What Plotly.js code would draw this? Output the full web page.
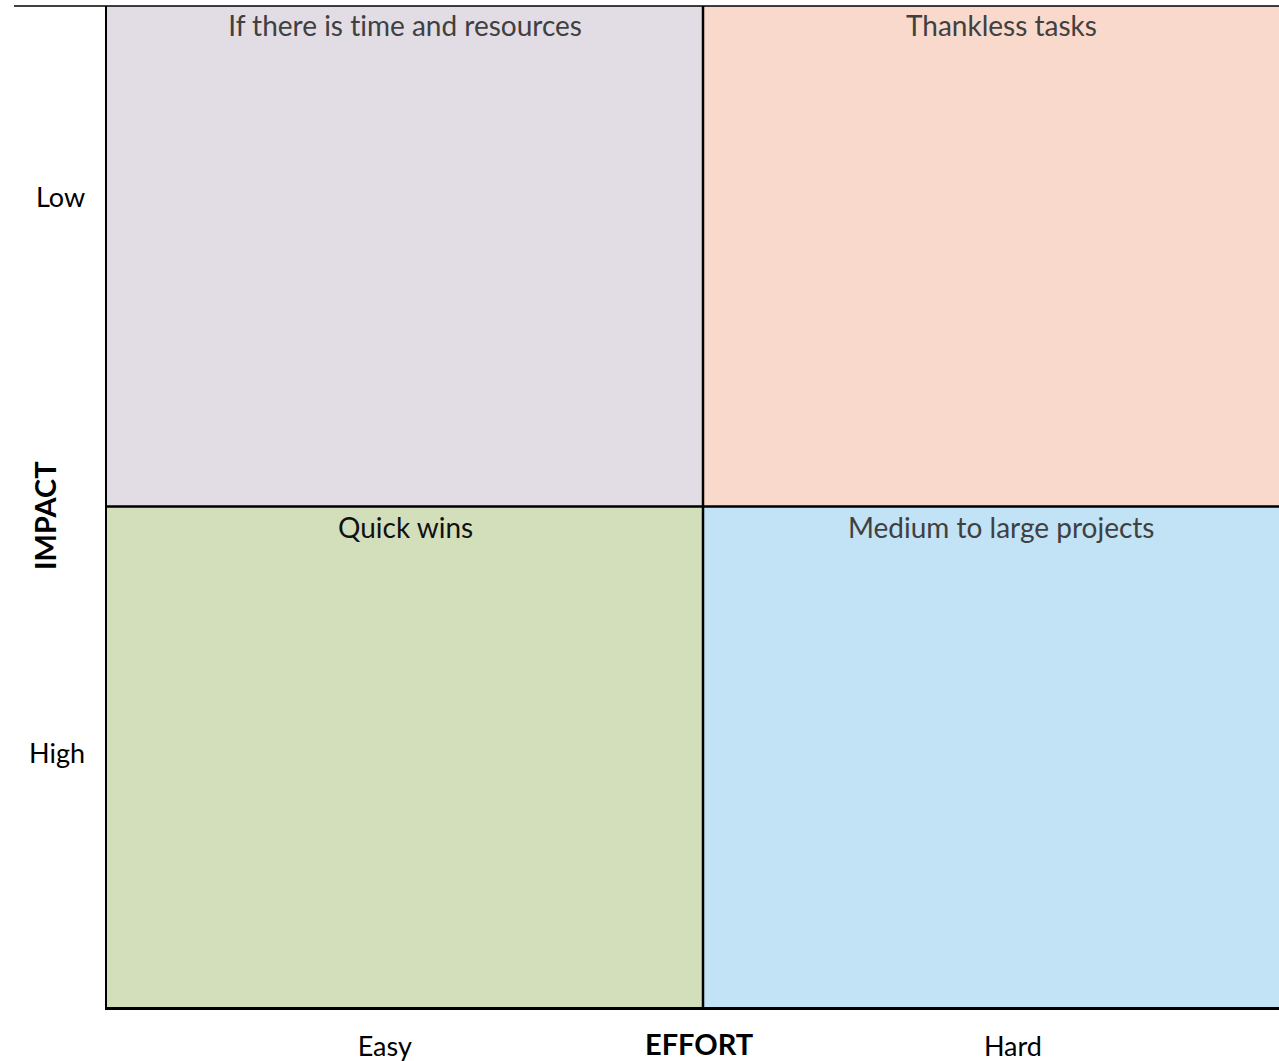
<!DOCTYPE html>
<html>
<head>
<meta charset="utf-8">
<script src="https://cdn.plot.ly/plotly-3.0.1.min.js"></script>
<style>
html,body{margin:0;padding:0;background:#fff;}
#chart{width:1279px;height:1061px;}
#chart text{font-variant-ligatures:none;font-feature-settings:"liga" 0, "clig" 0;}
</style>
</head>
<body>
<div id="chart"></div>
<script>
// ---- data ----
const effortLevels = ['Easy', 'Hard'];          // x categories, left to right
const impactLevels = ['High', 'Low'];           // y categories, bottom to top
// quadrant names, rows bottom (High) to top (Low), columns Easy -> Hard
const quadrantNames = [
  ['Quick wins', 'Medium to large projects'],
  ['If there is time and resources', 'Thankless tasks']
];
const quadrantIndex = [[2, 3], [0, 1]];
const quadrantColors = ['#E2DCE5', '#F8D9CB', '#D3DFBB', '#C2E2F5'];
const quadrantTextColors = [['#111111', '#404040'], ['#404040', '#404040']];
const xTitle = 'EFFORT';
const yTitle = 'IMPACT';

// ---- build ----
const cellX = effortLevels.map((_, i) => i + 0.5);
const cellY = impactLevels.map((_, j) => j + 0.5);
const n = quadrantColors.length;
const colorscale = quadrantColors.map((c, k) => [k / (n - 1), c]);

const heat = {
  type: 'heatmap',
  x: cellX, y: cellY, z: quadrantIndex,
  zmin: 0, zmax: n - 1,
  colorscale: colorscale,
  showscale: false,
  hoverinfo: 'skip'
};

const FONT = 'Lato, "Open Sans", sans-serif';
const annotations = [];
quadrantNames.forEach((row, j) => {
  row.forEach((name, i) => {
    annotations.push({
      x: i + 0.5, y: j + 1, xref: 'x', yref: 'y',
      text: name, showarrow: false,
      xanchor: 'center', yanchor: 'middle', yshift: j === 1 ? -19 : -20,
      font: {family: FONT, size: 28, color: quadrantTextColors[j][i]}
    });
  });
});
annotations.push({
  xref: 'paper', yref: 'paper', x: 0.505, y: 0, yshift: -36,
  xanchor: 'center', yanchor: 'middle', showarrow: false,
  text: '<b>' + xTitle + '</b>',
  font: {family: FONT, size: 29, color: '#000'}
});
annotations.push({
  xref: 'paper', yref: 'paper', x: 0, y: 0.4905, xshift: -63,
  xanchor: 'center', yanchor: 'middle', showarrow: false, textangle: -90,
  text: '<b>' + yTitle + '</b>',
  font: {family: FONT, size: 29, color: '#000'}
});

const layout = {
  width: 1279, height: 1061,
  margin: {l: 107, r: 0, t: 6, b: 54, pad: 0},
  paper_bgcolor: '#fff', plot_bgcolor: '#fff',
  showlegend: false,
  font: {family: FONT, size: 27, color: '#000'},
  xaxis: {
    range: [0, 1172 / 596], showgrid: false, zeroline: false,
    showline: true, linecolor: '#000', linewidth: 2.5,
    tickmode: 'array', tickvals: [0.466, 1.52], ticktext: effortLevels,
    ticks: '', ticklabelstandoff: 14, fixedrange: true
  },
  yaxis: {
    range: [0, 2], showgrid: false, zeroline: false,
    showline: true, linecolor: '#000', linewidth: 2.5,
    tickmode: 'array', tickvals: [0.507, 1.618], ticktext: impactLevels,
    ticks: '', ticklabelstandoff: 14, fixedrange: true
  },
  shapes: [
    {type: 'line', xref: 'x', yref: 'y', x0: 1, x1: 1, y0: 0, y1: 2, line: {color: '#000', width: 2.5}},
    {type: 'line', xref: 'x', yref: 'y', x0: 0, x1: 1172 / 596, y0: 1, y1: 1, line: {color: '#000', width: 2.5}},
    {type: 'line', xref: 'paper', yref: 'paper', x0: -0.0794, x1: 1, y0: 1, y1: 1, line: {color: '#000', width: 1.5}}
  ],
  annotations: annotations
};

Plotly.newPlot('chart', [heat], layout, {displayModeBar: false, staticPlot: true});
</script>
</body>
</html>
